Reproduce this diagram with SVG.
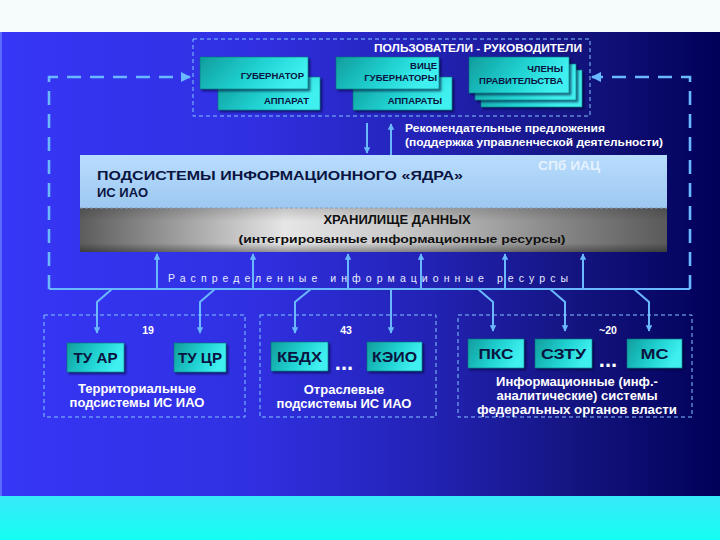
<svg xmlns="http://www.w3.org/2000/svg" width="720" height="540" viewBox="0 0 720 540">
<defs>
  <linearGradient id="bg" x1="0" y1="0" x2="1" y2="0">
    <stop offset="0" stop-color="#3636f6"/>
    <stop offset="0.35" stop-color="#3030e2"/>
    <stop offset="0.6" stop-color="#2222b4"/>
    <stop offset="0.8" stop-color="#141480"/>
    <stop offset="1" stop-color="#000058"/>
  </linearGradient>
  <linearGradient id="cyan" x1="0" y1="0" x2="0" y2="1">
    <stop offset="0" stop-color="#38e8fa"/>
    <stop offset="1" stop-color="#14fff2"/>
  </linearGradient>
  <linearGradient id="teal" x1="0" y1="0" x2="1" y2="0.3">
    <stop offset="0" stop-color="#0f9c9c"/>
    <stop offset="0.6" stop-color="#22d4d4"/>
    <stop offset="1" stop-color="#40f0f0"/>
  </linearGradient>
  <linearGradient id="gray" x1="0" y1="0" x2="1" y2="0">
    <stop offset="0" stop-color="#5c5c5c"/>
    <stop offset="0.35" stop-color="#e6e6e6"/>
    <stop offset="0.55" stop-color="#c8c8c8"/>
    <stop offset="1" stop-color="#5a5a5a"/>
  </linearGradient>
  <linearGradient id="grayv" x1="0" y1="0" x2="0" y2="1">
    <stop offset="0" stop-color="#000" stop-opacity="0.15"/>
    <stop offset="0.3" stop-color="#000" stop-opacity="0"/>
    <stop offset="0.8" stop-color="#000" stop-opacity="0"/>
    <stop offset="1" stop-color="#000" stop-opacity="0.35"/>
  </linearGradient>
  <linearGradient id="lblue" x1="0" y1="0" x2="0" y2="1">
    <stop offset="0" stop-color="#b8dcfc"/>
    <stop offset="1" stop-color="#9ec8f2"/>
  </linearGradient>
  <marker id="ah" viewBox="0 0 10 10" refX="9" refY="5" markerWidth="3.2" markerHeight="3.2" orient="auto">
    <path d="M0,0 L10,5 L0,10 z" fill="#6ab8ff"/>
  </marker>
  <marker id="ahs" viewBox="0 0 10 10" refX="9" refY="5" markerWidth="4" markerHeight="4" orient="auto">
    <path d="M0,0 L10,5 L0,10 z" fill="#6ab8ff"/>
  </marker>
  <filter id="sh" x="-10%" y="-10%" width="130%" height="140%">
    <feDropShadow dx="2" dy="2" stdDeviation="0.8" flood-color="#000030" flood-opacity="0.6"/>
  </filter>
</defs>
<style>
  .frame{fill:none;stroke:#86c4ff;stroke-width:1;stroke-dasharray:4 3}
  .box{fill:url(#teal);stroke:#0a6f7a;stroke-width:0.6;filter:url(#sh)}
  .bt{font-family:"Liberation Sans",Arial,sans-serif;font-weight:bold;fill:#0a1440}
  .wt{font-family:"Liberation Sans",Arial,sans-serif;font-weight:bold;fill:#ffffff}
  .con{fill:none;stroke:#6ab8ff;stroke-width:2}
  .dash{fill:none;stroke:#6ab8ff;stroke-width:2.6;stroke-dasharray:14 9}
  .dots{font-family:"Liberation Sans",Arial,sans-serif;font-weight:bold;fill:#ffffff;font-size:22px}
</style>

<rect x="0" y="0" width="720" height="540" fill="#f6fcfc"/>
<rect x="0" y="32" width="720" height="464" fill="url(#bg)"/>
<rect x="0" y="32" width="2" height="464" fill="#5a6cff"/>
<rect x="0" y="496" width="720" height="44" fill="url(#cyan)"/>

<g id="connectors">
  <path class="dash" d="M49,289 L49,77 L190,77" marker-end="url(#ahs)"/>
  <path class="dash" d="M690,289 L690,77 L592,77" marker-end="url(#ahs)"/>
  <line class="con" stroke-width="2.6" x1="49" y1="289" x2="690" y2="289"/>
  <line class="con" x1="367" y1="123" x2="367" y2="153" marker-end="url(#ah)"/>
  <line class="con" x1="391" y1="155" x2="391" y2="124" marker-end="url(#ah)"/>
  <line class="con" x1="157" y1="289" x2="157" y2="254" marker-end="url(#ah)"/>
  <line class="con" x1="253" y1="289" x2="253" y2="254" marker-end="url(#ah)"/>
  <line class="con" x1="348" y1="289" x2="348" y2="254" marker-end="url(#ah)"/>
  <line class="con" x1="421" y1="289" x2="421" y2="254" marker-end="url(#ah)"/>
  <line class="con" x1="505" y1="289" x2="505" y2="254" marker-end="url(#ah)"/>
  <line class="con" x1="583" y1="289" x2="583" y2="254" marker-end="url(#ah)"/>
  <path class="con" d="M112,289 L97,302 L97,333" marker-end="url(#ah)"/>
  <path class="con" d="M215,289 L200,302 L200,333" marker-end="url(#ah)"/>
  <path class="con" d="M311,289 L295,302 L295,333" marker-end="url(#ah)"/>
  <path class="con" d="M391,289 L391,333" marker-end="url(#ah)"/>
  <path class="con" d="M478,289 L493,302 L493,331" marker-end="url(#ah)"/>
  <path class="con" d="M550,289 L565,302 L565,331" marker-end="url(#ah)"/>
  <path class="con" d="M634,289 L649,302 L649,331" marker-end="url(#ah)"/>
</g>

<g id="users">
  <rect class="frame" x="193" y="39" width="397" height="77"/>
  <text class="wt" font-weight="normal" x="582" y="52" font-size="11.5" text-anchor="end" textLength="208" lengthAdjust="spacingAndGlyphs">ПОЛЬЗОВАТЕЛИ - РУКОВОДИТЕЛИ</text>
</g>

<g id="governor">
  <rect class="box" x="218" y="77" width="102" height="33"/>
  <text class="bt" x="309" y="104" font-size="9.5" text-anchor="end">АППАРАТ</text>
  <rect class="box" x="200" y="57" width="108" height="32"/>
  <text class="bt" x="304" y="79" font-size="9.5" text-anchor="end">ГУБЕРНАТОР</text>
</g>

<g id="vice">
  <rect class="box" x="353" y="77" width="99" height="33"/>
  <text class="bt" x="442" y="104" font-size="9.5" text-anchor="end">АППАРАТЫ</text>
  <rect class="box" x="336" y="57" width="103" height="32"/>
  <text class="bt" x="437" y="69" font-size="9.5" text-anchor="end">ВИЦЕ</text>
  <text class="bt" x="437" y="81" font-size="9.5" text-anchor="end">ГУБЕРНАТОРЫ</text>
</g>

<g id="members">
  <rect class="box" x="481" y="70" width="101" height="37"/>
  <rect class="box" x="475" y="64" width="101" height="36"/>
  <rect class="box" x="469" y="57" width="100" height="36"/>
  <text class="bt" x="563" y="72" font-size="9.5" text-anchor="end">ЧЛЕНЫ</text>
  <text class="bt" x="563" y="84" font-size="9.5" text-anchor="end">ПРАВИТЕЛЬСТВА</text>
</g>

<g id="recommend">
  <text class="wt" x="405" y="132" font-size="10.5" textLength="200" lengthAdjust="spacingAndGlyphs">Рекомендательные предложения</text>
  <text class="wt" x="405" y="146" font-size="10.5" textLength="258" lengthAdjust="spacingAndGlyphs">(поддержка управленческой деятельности)</text>
</g>

<g id="core">
  <rect x="80" y="155" width="587" height="53" fill="url(#lblue)"/>
  <text class="bt" x="97" y="180" font-size="13" textLength="366" lengthAdjust="spacingAndGlyphs">ПОДСИСТЕМЫ ИНФОРМАЦИОННОГО «ЯДРА»</text>
  <text class="bt" x="97" y="197" font-size="13">ИС ИАО</text>
  <text x="538" y="170" font-size="12" font-family="Liberation Sans, Arial, sans-serif" font-weight="bold" fill="#e6f2ff" textLength="62" lengthAdjust="spacingAndGlyphs">СПб ИАЦ</text>
</g>

<g id="storage">
  <rect x="80" y="208" width="587" height="44" fill="url(#gray)"/>
  <rect x="80" y="208" width="587" height="44" fill="url(#grayv)"/>
  <line x1="80" y1="208" x2="667" y2="208" stroke="#8aa0b8" stroke-width="1" stroke-dasharray="3 2"/>
  <text class="bt" x="397" y="224" font-size="13" text-anchor="middle" style="fill:#101010">ХРАНИЛИЩЕ ДАННЫХ</text>
  <text class="bt" x="402" y="243" font-size="10.5" text-anchor="middle" style="fill:#101010" textLength="327" lengthAdjust="spacingAndGlyphs">(интегрированные информационные ресурсы)</text>
</g>

<g id="distributed">
  <text x="168" y="282" font-size="10.5" font-family="Liberation Sans, Arial, sans-serif" fill="#e8ecff" textLength="400" lengthAdjust="spacing">Распределенные   информационные   ресурсы</text>
</g>

<g id="territorial">
  <rect class="frame" x="44" y="315" width="201" height="102"/>
  <text class="wt" x="148" y="334" font-size="10.5" text-anchor="middle">19</text>
  <rect class="box" x="67" y="343" width="57" height="29"/>
  <text class="bt" x="95.5" y="363" font-size="15" text-anchor="middle" textLength="44" lengthAdjust="spacingAndGlyphs">ТУ АР</text>
  <rect class="box" x="174" y="343" width="52" height="29"/>
  <text class="bt" x="200" y="363" font-size="15" text-anchor="middle" textLength="44" lengthAdjust="spacingAndGlyphs">ТУ ЦР</text>
  <text class="wt" x="137" y="393" font-size="13" text-anchor="middle">Территориальные</text>
  <text class="wt" x="137" y="407" font-size="13" text-anchor="middle">подсистемы ИС ИАО</text>
</g>

<g id="sectoral">
  <rect class="frame" x="260" y="315" width="176" height="102"/>
  <text class="wt" x="346" y="334" font-size="10.5" text-anchor="middle">43</text>
  <rect class="box" x="271" y="342" width="57" height="29"/>
  <text class="bt" x="299.5" y="362" font-size="15" text-anchor="middle" textLength="45" lengthAdjust="spacingAndGlyphs">КБДХ</text>
  <text class="dots" x="344" y="370" text-anchor="middle">...</text>
  <rect class="box" x="367" y="342" width="55" height="29"/>
  <text class="bt" x="394.5" y="362" font-size="15" text-anchor="middle" textLength="45" lengthAdjust="spacingAndGlyphs">КЭИО</text>
  <text class="wt" x="344" y="394" font-size="13" text-anchor="middle">Отраслевые</text>
  <text class="wt" x="344" y="408" font-size="13" text-anchor="middle">подсистемы ИС ИАО</text>
</g>

<g id="federal">
  <rect class="frame" x="458" y="315" width="234" height="102"/>
  <text class="wt" x="608" y="334" font-size="10.5" text-anchor="middle">~20</text>
  <rect class="box" x="468" y="339" width="56" height="29"/>
  <text class="bt" x="496" y="359" font-size="15" text-anchor="middle" textLength="35" lengthAdjust="spacingAndGlyphs">ПКС</text>
  <rect class="box" x="535" y="339" width="57" height="29"/>
  <text class="bt" x="563.5" y="359" font-size="15" text-anchor="middle" textLength="45" lengthAdjust="spacingAndGlyphs">СЗТУ</text>
  <text class="dots" x="608" y="367" text-anchor="middle">...</text>
  <rect class="box" x="627" y="339" width="55" height="29"/>
  <text class="bt" x="654.5" y="359" font-size="15" text-anchor="middle" textLength="28" lengthAdjust="spacingAndGlyphs">МС</text>
  <text class="wt" x="577" y="386" font-size="13" text-anchor="middle">Информационные (инф.-</text>
  <text class="wt" x="577" y="400" font-size="13" text-anchor="middle">аналитические) системы</text>
  <text class="wt" x="577" y="414" font-size="13" text-anchor="middle" textLength="200" lengthAdjust="spacingAndGlyphs">федеральных органов власти</text>
</g>
</svg>
